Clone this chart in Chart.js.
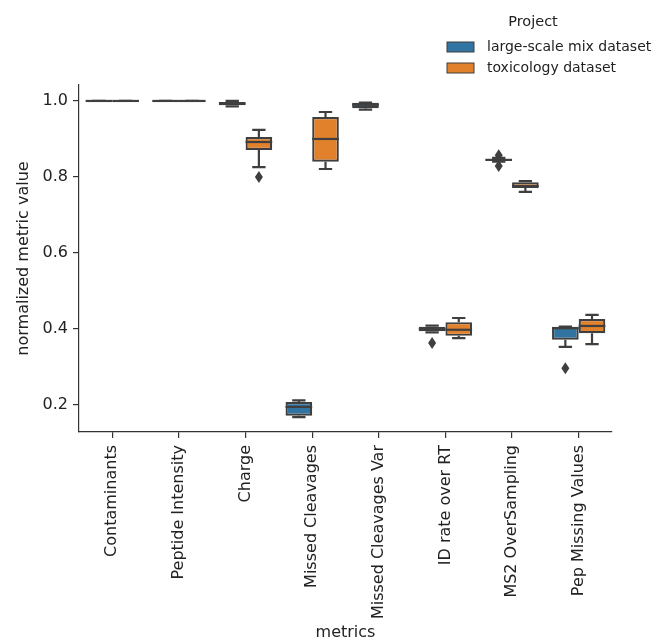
<!DOCTYPE html>
<html>
<head>
<meta charset="utf-8">
<script src="https://cdn.jsdelivr.net/npm/chart.js@4.4.1/dist/chart.umd.min.js"></script>
<style>
  html, body { margin: 0; padding: 0; background: #fff; }
  #wrap { position: relative; width: 651px; height: 639px; }
</style>
</head>
<body>
<div id="wrap"><canvas id="c"></canvas></div>
<script>
const categories = ['Contaminants', 'Peptide Intensity', 'Charge', 'Missed Cleavages',
  'Missed Cleavages Var', 'ID rate over RT', 'MS2 OverSampling', 'Pep Missing Values'];
const yTicks = [0.2, 0.4, 0.6, 0.8, 1.0];

// large-scale mix dataset
const mixQ1 = [1, 1, 0.989, 0.172, 0.981, 0.394, 0.843, 0.372];
const mixMed = [1, 1, 0.993, 0.195, 0.990, 0.400, 0.845, 0.402];
const mixQ3 = [1, 1, 0.997, 0.208, 0.995, 0.406, 0.847, 0.406];
const mixLo = [1, 1, 0.986, 0.168, 0.977, 0.391, 0.840, 0.353];
const mixHi = [1, 1, 1.0, 0.212, 0.996, 0.409, 0.850, 0.406];
const mixOut = [[], [], [], [], [], [0.363], [0.857, 0.829], [0.297]];

// toxicology dataset
const toxQ1 = [1, 1, 0.871, 0.840, null, 0.382, 0.771, 0.389];
const toxMed = [1, 1, 0.892, 0.900, null, 0.398, 0.776, 0.408];
const toxQ3 = [1, 1, 0.905, 0.958, null, 0.418, 0.786, 0.426];
const toxLo = [1, 1, 0.826, 0.821, null, 0.376, 0.761, 0.360];
const toxHi = [1, 1, 0.924, 0.971, null, 0.429, 0.789, 0.437];
const toxOut = [[], [], [0.80], [], [], [], [], []];

const BLUE = '#3274a1';
const ORANGE = '#e1812c';
const EDGE = '#3f3f3f';
const FONT = 'DejaVu Sans';

const stats = [
  { med: mixMed, lo: mixLo, hi: mixHi, q1: mixQ1, q3: mixQ3, out: mixOut },
  { med: toxMed, lo: toxLo, hi: toxHi, q1: toxQ1, q3: toxQ3, out: toxOut },
];

const boxParts = {
  id: 'boxParts',
  afterDatasetsDraw(chart) {
    const ctx = chart.ctx;
    const y = chart.scales.y;
    ctx.save();
    ctx.strokeStyle = EDGE;
    ctx.fillStyle = EDGE;
    ctx.lineWidth = 2.2;
    stats.forEach((s, di) => {
      const meta = chart.getDatasetMeta(di);
      meta.data.forEach((bar, i) => {
        if (s.med[i] == null) return;
        const x = bar.x, w = bar.width;
        const py = v => y.getPixelForValue(v);
        // whiskers
        ctx.beginPath();
        ctx.moveTo(x, py(s.q3[i])); ctx.lineTo(x, py(s.hi[i]));
        ctx.moveTo(x, py(s.q1[i])); ctx.lineTo(x, py(s.lo[i]));
        ctx.moveTo(x - w / 4, py(s.hi[i])); ctx.lineTo(x + w / 4, py(s.hi[i]));
        ctx.moveTo(x - w / 4, py(s.lo[i])); ctx.lineTo(x + w / 4, py(s.lo[i]));
        ctx.stroke();
        // median
        ctx.beginPath();
        ctx.moveTo(x - w / 2, py(s.med[i])); ctx.lineTo(x + w / 2, py(s.med[i]));
        ctx.stroke();
        // outliers
        s.out[i].forEach(v => {
          const oy = py(v);
          ctx.beginPath();
          ctx.moveTo(x, oy - 6); ctx.lineTo(x + 4, oy); ctx.lineTo(x, oy + 6); ctx.lineTo(x - 4, oy);
          ctx.closePath();
          ctx.fill();
        });
      });
    });

    // legend
    ctx.font = '14.5px "' + FONT + '"';
    ctx.textBaseline = 'middle';
    ctx.textAlign = 'center';
    ctx.fillStyle = '#222';
    ctx.fillText('Project', 533, 22);
    ctx.font = '14px "' + FONT + '"';
    ctx.textAlign = 'left';
    const items = [[BLUE, 'large-scale mix dataset', 47], [ORANGE, 'toxicology dataset', 68]];
    items.forEach(([c, label, cy]) => {
      ctx.fillStyle = c;
      ctx.fillRect(447, cy - 5, 27, 10);
      ctx.lineWidth = 1;
      ctx.strokeStyle = EDGE;
      ctx.strokeRect(447, cy - 5, 27, 10);
      ctx.fillStyle = '#222';
      ctx.fillText(label, 487, cy);
    });
    ctx.restore();
  },
};

const pairs = (a, b) => a.map((v, i) => (v == null ? null : [v, b[i]]));

new Chart(document.getElementById('c'), {
  type: 'bar',
  data: {
    labels: categories,
    datasets: [
      {
        label: 'large-scale mix dataset',
        data: pairs(mixQ1, mixQ3),
        backgroundColor: BLUE,
        borderColor: EDGE,
        borderWidth: 2.2,
        borderSkipped: false,
      },
      {
        label: 'toxicology dataset',
        data: pairs(toxQ1, toxQ3),
        backgroundColor: ORANGE,
        borderColor: EDGE,
        borderWidth: 2.2,
        borderSkipped: false,
      },
    ],
  },
  options: {
    responsive: true,
    maintainAspectRatio: false,
    animation: false,
    layout: { padding: { top: 85, left: 4, right: 39, bottom: 0 } },
    datasets: { bar: { categoryPercentage: 0.8, barPercentage: 1.0 } },
    scales: {
      x: {
        grid: { drawOnChartArea: false, offset: false, tickLength: 6, color: '#333', lineWidth: 1.2 },
        border: { color: '#333', width: 1.2 },
        ticks: { color: '#222', font: { family: FONT, size: 16 }, maxRotation: 90, minRotation: 90, padding: 7 },
        title: { display: true, text: 'metrics', color: '#222', font: { family: FONT, size: 16 }, padding: { top: 4, bottom: -3 } },
        afterFit(s) { s.height = 207; },
      },
      y: {
        min: 0.129,
        max: 1.042,
        afterBuildTicks(s) { s.ticks = yTicks.map(v => ({ value: v })); },
        grid: { drawOnChartArea: false, tickLength: 6, color: '#333', lineWidth: 1.2 },
        border: { color: '#333', width: 1.2 },
        ticks: { color: '#222', font: { family: FONT, size: 16 }, padding: 5, callback: v => v.toFixed(1) },
        title: { display: true, text: 'normalized metric value', color: '#222', font: { family: FONT, size: 16 }, padding: { top: 10, bottom: 0 } },
        afterFit(s) { s.width = 75; },
      },
    },
    plugins: {
      legend: { display: false },
      tooltip: { enabled: false },
    },
  },
  plugins: [boxParts],
});
</script>
</body>
</html>
